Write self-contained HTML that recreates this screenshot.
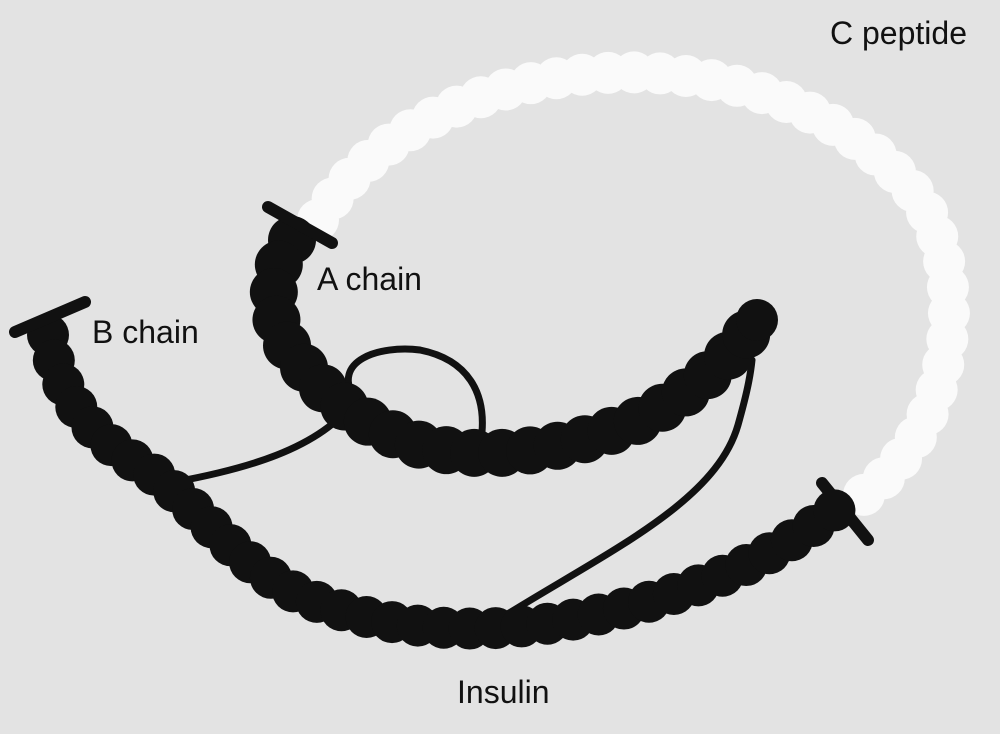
<!DOCTYPE html>
<html><head><style>
html,body{margin:0;padding:0;background:#e3e3e3;}
svg{display:block}
text{font-family:"Liberation Sans",sans-serif;fill:#111;}
</style></head><body>
<svg id="s" width="1000" height="734" viewBox="0 0 1000 734">
<rect width="1000" height="734" fill="#e3e3e3"/>
<g id="cp" fill="#fafafa"></g>
<g fill="none" stroke="#111" stroke-width="7" stroke-linecap="round">
<path d="M175,482 C240,470 320,450 355,400 C330,360 380,345 420,350 C470,360 485,395 482,432"/>
<path d="M490,625 C600,555 715,505 738,425 C745,400 750,380 752,360"/>
</g>
<g id="ch" fill="#111"></g>
<circle cx="757" cy="320" r="21" fill="#111"/>
<g stroke="#111" stroke-width="12" stroke-linecap="round">
<line x1="15" y1="332" x2="85" y2="302"/>
<line x1="268" y1="207" x2="332" y2="243"/>
<line x1="822" y1="483" x2="868" y2="540"/>
</g>
<path id="pB" d="M48,335 C55,380 80,430 140,465 C190,495 230,560 300,595 C380,630 470,635 560,622 C660,605 760,570 835,510" fill="none"/>
<path id="pA" d="M292,240 C268,270 268,320 290,350 C320,390 350,420 420,445 C500,465 580,445 640,420 C690,395 730,360 755,322" fill="none"/>
<path id="pC" d="M318,220 C360,150 450,90 580,75 C720,60 850,110 920,200 C970,280 950,400 900,460 C880,485 865,495 848,505" fill="none"/>
<text x="830" y="44" font-size="32">C peptide</text>
<text x="317" y="290" font-size="32">A chain</text>
<text x="92" y="343" font-size="32">B chain</text>
<text x="457" y="703" font-size="32">Insulin</text>
</svg>
<script>
var ns="http://www.w3.org/2000/svg";
function beads(id,g,r,step){var p=document.getElementById(id),L=p.getTotalLength(),G=document.getElementById(g);
for(var d=0;d<=L;d+=step){var pt=p.getPointAtLength(d),c=document.createElementNS(ns,"circle");
c.setAttribute("cx",pt.x);c.setAttribute("cy",pt.y);c.setAttribute("r",r);G.appendChild(c);}}
beads("pB","ch",21,26);beads("pA","ch",24,28);beads("pC","cp",21,26);
</script>
</body></html>
